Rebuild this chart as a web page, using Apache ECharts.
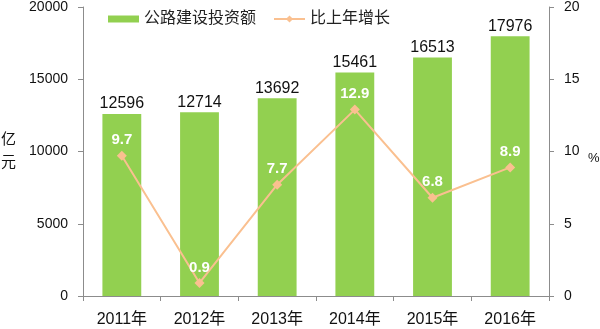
<!DOCTYPE html>
<html>
<head>
<meta charset="utf-8">
<script src="https://cdn.jsdelivr.net/npm/echarts@6/dist/echarts.min.js"></script>
<style>
  html, body { margin: 0; padding: 0; background: #fff; }
  #chart { width: 600px; height: 329px; }
</style>
</head>
<body>
<div id="chart"></div>
<script>
// Highway construction investment (100 million yuan) and year-on-year growth (%)
const years = ['2011年', '2012年', '2013年', '2014年', '2015年', '2016年'];
const investment = [12596, 12714, 13692, 15461, 16513, 17976];
const growth = [9.7, 0.9, 7.7, 12.9, 6.8, 8.9];
const leftTicks = { min: 0, max: 20000, interval: 5000 };
const rightTicks = { min: 0, max: 20, interval: 5 };

const FONT = '"Liberation Sans", Arial, "Noto Sans CJK SC", sans-serif';
const axisGray = '#8c8c8c';
const textColor = '#111';
const legendText = { fontSize: 16, color: '#222', fontFamily: FONT };

const chart = echarts.init(document.getElementById('chart'));
chart.setOption({
  animation: false,
  textStyle: { fontFamily: FONT },
  grid: { left: 83, right: 51, top: 7, bottom: 33, containLabel: false, outerBoundsMode: 'none' },
  legend: [
    {
      top: 6,
      left: 103,
      itemWidth: 31,
      itemHeight: 7,
      textStyle: legendText,
      data: [{ name: '公路建设投资额', icon: 'rect' }]
    },
    {
      top: 6,
      left: 268,
      itemWidth: 31,
      itemHeight: 9,
      textStyle: legendText,
      data: [{ name: '比上年增长' }]
    }
  ],
  xAxis: {
    type: 'category',
    data: years,
    axisLine: { lineStyle: { color: axisGray } },
    axisTick: { show: true, alignWithLabel: false, length: 5, lineStyle: { color: axisGray } },
    axisLabel: { color: textColor, fontSize: 16, margin: 16, fontFamily: FONT }
  },
  yAxis: [
    {
      type: 'value',
      min: leftTicks.min, max: leftTicks.max, interval: leftTicks.interval,
      name: '亿\n元',
      nameLocation: 'middle',
      nameRotate: 0,
      nameGap: 67,
      nameTextStyle: { fontSize: 15, color: textColor, lineHeight: 23, padding: [8, 0, 0, 0], fontFamily: FONT },
      axisLine: { show: true, lineStyle: { color: axisGray } },
      axisTick: { show: true, length: 5, lineStyle: { color: axisGray } },
      splitLine: { show: false },
      axisLabel: { color: textColor, fontSize: 14, margin: 15, fontFamily: FONT, formatter: v => String(v) }
    },
    {
      type: 'value',
      min: rightTicks.min, max: rightTicks.max, interval: rightTicks.interval,
      name: '%',
      nameLocation: 'middle',
      nameRotate: 0,
      nameGap: 39,
      nameTextStyle: { fontSize: 13, color: textColor, verticalAlign: 'top', fontFamily: FONT },
      axisLine: { show: true, lineStyle: { color: axisGray } },
      axisTick: { show: true, length: 5, lineStyle: { color: axisGray } },
      splitLine: { show: false },
      axisLabel: { color: textColor, fontSize: 14, margin: 15, fontFamily: FONT, formatter: v => String(v) }
    }
  ],
  series: [
    {
      name: '公路建设投资额',
      type: 'bar',
      data: investment,
      barWidth: '50%',
      itemStyle: { color: '#92D050' },
      label: {
        show: true,
        position: 'top',
        distance: 2,
        color: textColor,
        fontSize: 16,
        fontFamily: FONT
      }
    },
    {
      name: '比上年增长',
      type: 'line',
      yAxisIndex: 1,
      data: growth,
      symbol: 'diamond',
      symbolSize: 10,
      lineStyle: { color: '#FAC090', width: 2 },
      itemStyle: { color: '#FAC090' },
      label: {
        show: true,
        position: 'top',
        distance: 3,
        color: '#fff',
        fontSize: 15,
        fontWeight: 'bold',
        fontFamily: FONT,
        formatter: p => p.value.toFixed(1)
      }
    }
  ]
});
</script>
</body>
</html>
